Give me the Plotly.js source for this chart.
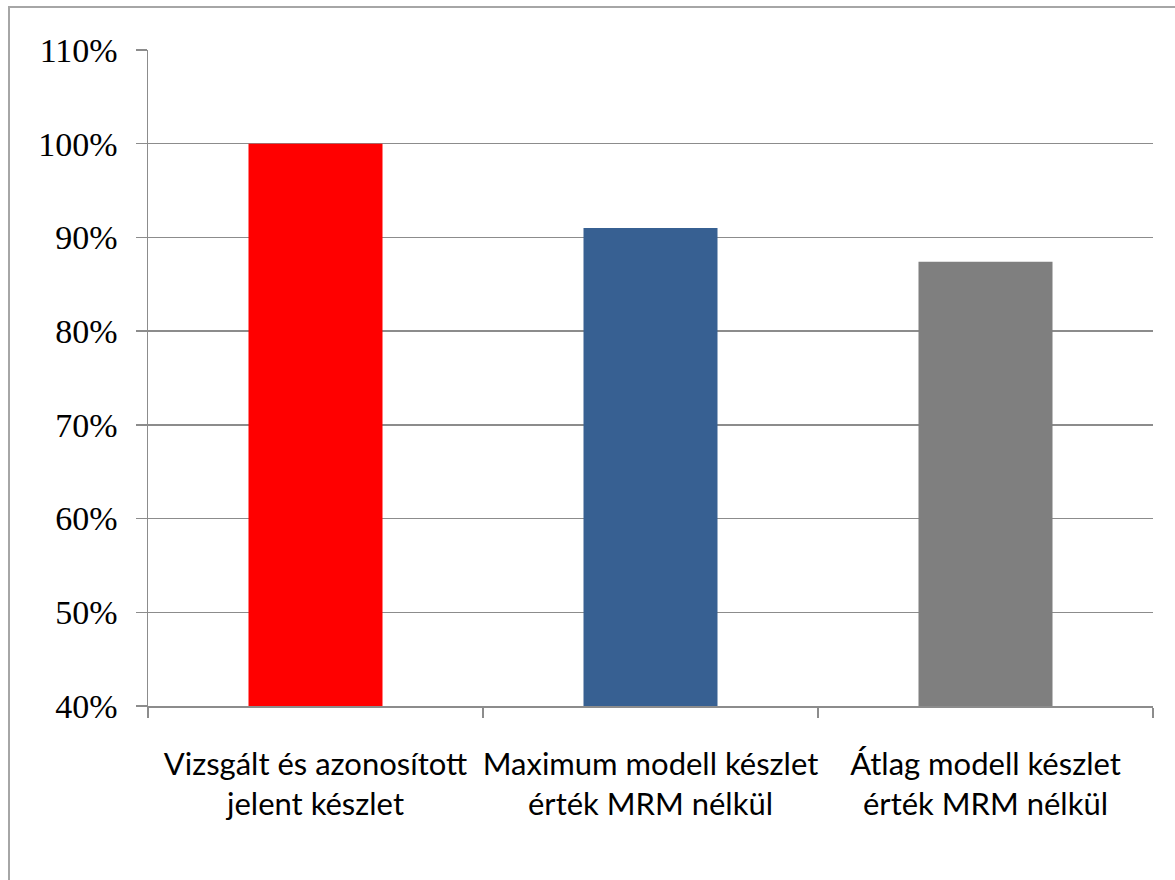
<!DOCTYPE html>
<html>
<head>
<meta charset="utf-8">
<script src="https://cdn.plot.ly/plotly-3.0.1.min.js"></script>
<style>
  html, body { margin: 0; padding: 0; background: #ffffff; }
  #chart { width: 1175px; height: 880px; }
  #frame { position: absolute; left: 8px; top: 6px; width: 1200px; height: 900px;
           border: 2px solid #a6a6a6; pointer-events: none; }
</style>
</head>
<body>
<div id="chart"></div>
<div id="frame"></div>
<script>
const categories = [
  "Vizsgált és azonosított<br>jelent készlet",
  "Maximum modell készlet<br>érték MRM nélkül",
  "Átlag modell készlet<br>érték MRM nélkül"
];
const values = [1.00, 0.910, 0.874];
const barColors = ["#ff0000", "#376092", "#7f7f7f"];
const yTickVals = [0.4, 0.5, 0.6, 0.7, 0.8, 0.9, 1.0, 1.1];
const yTickText = ["40%", "50%", "60%", "70%", "80%", "90%", "100%", "110%"];

const trace = {
  type: "bar",
  x: categories,
  y: values,
  marker: { color: barColors, line: { width: 0 } },
  hoverinfo: "skip"
};

const layout = {
  width: 1175,
  height: 880,
  margin: { l: 148, r: 22, t: 50, b: 174 },
  paper_bgcolor: "#ffffff",
  plot_bgcolor: "#ffffff",
  showlegend: false,
  bargap: 0.6,
  xaxis: {
    type: "category",
    showline: true,
    linecolor: "#8c8c8c",
    linewidth: 1.5,
    ticks: "outside",
    tickson: "boundaries",
    ticklen: 10,
    tickcolor: "#8c8c8c",
    tickwidth: 1.5,
    tickangle: 0,
    ticklabelstandoff: 30,
    tickfont: { family: "Lato, Liberation Sans, sans-serif", size: 31, color: "#000000" },
    showgrid: false,
    fixedrange: true
  },
  yaxis: {
    range: [0.4, 1.1],
    tickvals: yTickVals,
    ticktext: yTickText,
    showline: true,
    linecolor: "#8c8c8c",
    linewidth: 1.5,
    ticks: "outside",
    ticklen: 11,
    tickcolor: "#8c8c8c",
    tickwidth: 1.5,
    ticklabelstandoff: 11,
    showgrid: true,
    gridcolor: "#8c8c8c",
    gridwidth: 1.5,
    zeroline: false,
    tickfont: { family: "Liberation Serif, Times New Roman, serif", size: 34, color: "#000000" },
    fixedrange: true
  }
};

Plotly.newPlot("chart", [trace], layout, { displayModeBar: false, staticPlot: true });
</script>
</body>
</html>
